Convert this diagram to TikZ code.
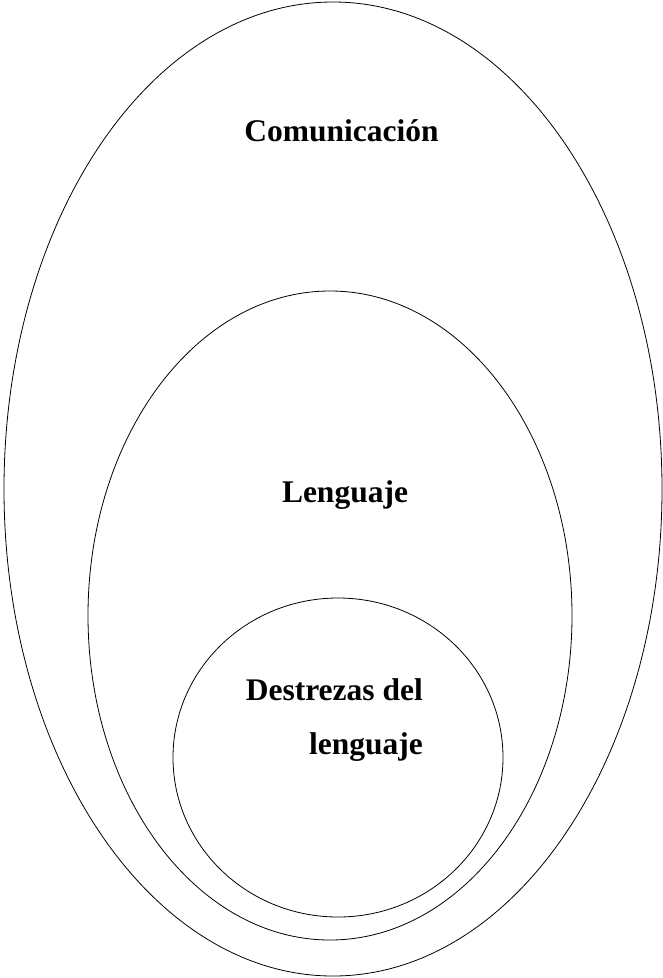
\documentclass[tikz,border=0pt]{standalone}
\usepackage{fontspec}
\setmainfont{Liberation Serif}
\usetikzlibrary{positioning}
\usetikzlibrary{shapes.geometric}
\tikzset{
  ring/.style = {%
    shape=ellipse,
    draw=black,
    line width=0.8pt,
    inner sep=0pt, outer sep=0pt},
  label/.style = {%
    inner sep=0pt,
    font=\fontsize{31.5}{54}\selectfont\bfseries},
}

\begin{document}
\begin{tikzpicture}[x=1pt,y=-1pt]
    \useasboundingbox (0,0) rectangle (663,978);
    % nested sets
    \node[ring, minimum width=658pt, minimum height=974pt] (comm) at (333,489) {};
    \node[ring, minimum width=484pt, minimum height=649pt] (lang) at (330,615.5) {};
    \node[ring, minimum width=330pt, minimum height=319pt] (skill) at (338,757.5) {};
    % labels
    \node[label, anchor=base] (commtxt) at (341.5,141) {Comunicación};
    \node[label, anchor=base] (langtxt) at (345,502) {Lenguaje};
    \node[label, anchor=base east] (skilltxt) at (423,700) {Destrezas del};
    \node[label, anchor=base east] (skilltxt2) at ([yshift=-54pt]skilltxt.base east) {lenguaje};
\end{tikzpicture}
\end{document}
